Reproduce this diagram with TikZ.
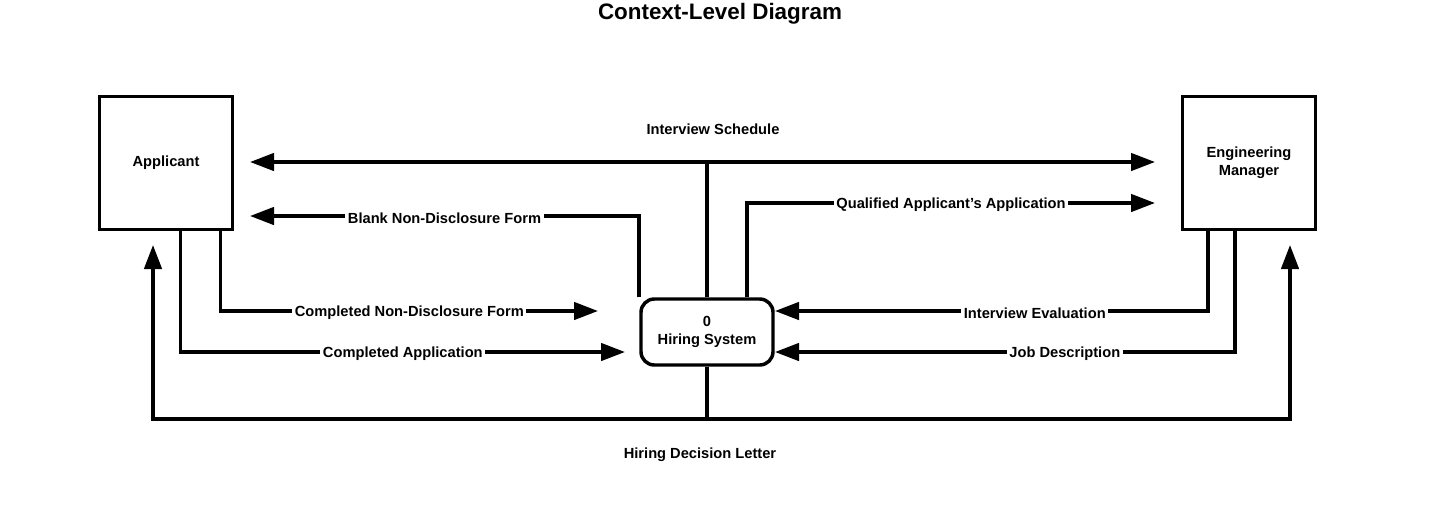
\documentclass[tikz,border=0pt]{standalone}
\usepackage{fontspec}
\setmainfont{Liberation Sans}
\usetikzlibrary{arrows.meta,positioning}
\tikzset{
    entity/.style={draw,line width=2.6pt,minimum width=100pt,minimum height=100pt,
        align=center,font=\fontsize{11}{13.5}\selectfont\bfseries},
    process/.style={draw,line width=2.6pt,rounded corners=10pt,minimum width=99pt,
        minimum height=49.5pt,align=center,font=\fontsize{11}{13.5}\selectfont\bfseries},
    flow/.style={line width=2.6pt,-{Triangle[length=18pt,width=13pt]}},
    link/.style={line width=2.6pt},
    lbl/.style={fill=white,inner xsep=2pt,inner ysep=1pt,yshift=-1.5pt,font=\fontsize{11}{13.5}\selectfont\bfseries},
    txt/.style={font=\fontsize{11}{13.5}\selectfont\bfseries}
}
\begin{document}
\begin{tikzpicture}[x=0.75pt,y=-0.75pt]
        \useasboundingbox (0,0) rectangle (1450,515);

        % Title
        \node[font=\fontsize{16.8}{20}\selectfont\bfseries] (title) at (720,14) {Context-Level Diagram};

        % External entities and process
        \node[entity] (app) at (166,163) {Applicant};
        \node[entity] (em) at (1249,163) {Engineering\\Manager};
        \node[process] (hs) at (707,332) {0\\Hiring System};

        % Free ends of the flows
        \coordinate (isJ) at (707,162);
        \coordinate (isA) at (250,162);
        \coordinate (isE) at (1155,162);
        \coordinate (bnA) at (250,216);
        \coordinate (qaE) at (1155,203);
        \coordinate (cnH) at (598,311);
        \coordinate (caH) at (625,352);
        \coordinate (ieH) at (775,311);
        \coordinate (jdH) at (775,352);
        \coordinate (hdJ) at (707,419);
        \coordinate (hdA) at (153,245);
        \coordinate (hdE) at (1290,245);

        % Interview schedule
        \draw[link] (hs.north) -- (isJ);
        \draw[flow] (isJ) -- (isA);
        \draw[flow] (isJ) -- (isE);
        \node[txt] (isT) at (713,129) {Interview Schedule};

        % Flows above the process
        \draw[flow] ([xshift=-51pt]hs.north) |- (bnA) node[lbl,pos=0.75] {Blank Non-Disclosure Form};
        \draw[flow] ([xshift=30pt]hs.north) |- (qaE) node[lbl,pos=0.75] {Qualified Applicant’s Application};

        % Flows from the applicant
        \draw[flow] ([xshift=41pt]app.south) |- (cnH) node[lbl,pos=0.75] {Completed Non-Disclosure Form};
        \draw[flow] ([xshift=11pt]app.south) |- (caH) node[lbl,pos=0.75] {Completed Application};

        % Flows from the engineering manager
        \draw[flow] ([xshift=-30.75pt]em.south) |- (ieH) node[lbl,pos=0.70] {Interview Evaluation};
        \draw[flow] ([xshift=-10.5pt]em.south) |- (jdH) node[lbl,pos=0.685] {Job Description};

        % Hiring decision letter
        \draw[link] (hs.south) -- (hdJ);
        \draw[flow] (hdJ) -| (hdA);
        \draw[flow] (hdJ) -| (hdE);
        \node[txt] (hdT) at (700,455) {Hiring Decision Letter};
    \end{tikzpicture}
\end{document}
